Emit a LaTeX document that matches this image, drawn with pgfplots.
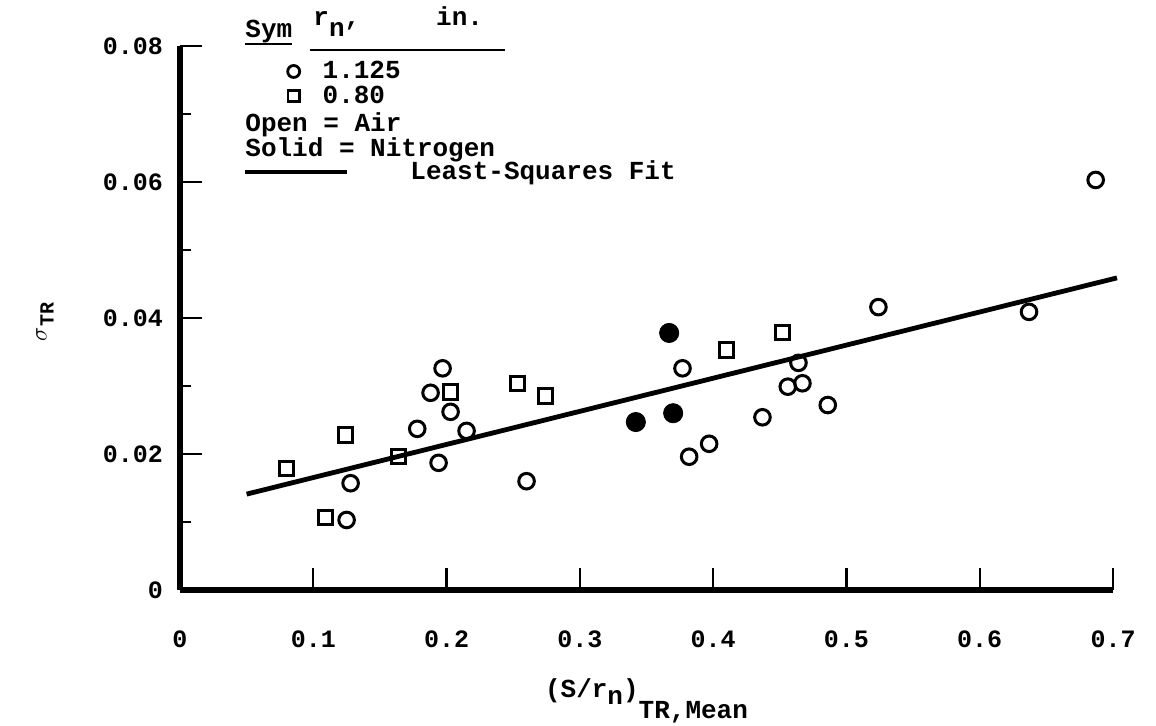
\documentclass[border=0pt]{standalone}
\usepackage{pgfplots}
\pgfplotsset{compat=1.18}
\usepackage{fontspec}
\setmainfont{Liberation Mono}
\begin{document}
\begin{tikzpicture}
\useasboundingbox (-90pt,-68pt) rectangle (488pt,295pt);
\begin{axis}[
  scale only axis, width=466.5pt, height=272pt,
  xmin=0, xmax=0.7, ymin=0, ymax=0.08,
  axis lines=left, x axis line style={-}, y axis line style={-},
  axis line style={line width=2.8pt},
  clip=false,
  tick align=inside,
  major tick length=11pt, minor tick length=5.5pt,
  every tick/.style={line width=1.1pt, black},
  xtick={0,0.1,0.2,0.3,0.4,0.5,0.6,0.7},
  xticklabels={0,0.1,0.2,0.3,0.4,0.5,0.6,0.7},
  ytick={0,0.02,0.04,0.06,0.08},
  yticklabels={0,0.02,0.04,0.06,0.08},
  minor ytick={0.01,0.03,0.05,0.07},
  scaled y ticks=false, scaled x ticks=false,
  /pgf/number format/assume math mode=true,
  ticklabel style={font=\fontsize{12.5}{13}\selectfont\bfseries},
  xticklabel style={yshift=-17pt},
  yticklabel style={xshift=-5pt},
  xlabel={(S/r\raisebox{-0.5ex}{n})\raisebox{-1.5ex}{TR,Mean}},
  xlabel style={at={(axis description cs:0.5,0)}, anchor=north, yshift=-41pt, font=\fontsize{13}{13}\selectfont\bfseries},
  legend style={at={(axis description cs:0.115,0.98)}, anchor=north west, draw=none, fill=none,
    font=\fontsize{13}{13}\selectfont\bfseries, row sep=-2pt, inner sep=0pt,
    nodes={inner sep=2pt},
    /tikz/every odd column/.append style={column sep=9.5pt}},
  legend cell align=left,
]
\addlegendimage{only marks, mark=o, mark size=3pt, line width=1.4pt, black}
\addlegendentry{1.125}
\addlegendimage{only marks, mark=square, mark size=2.8pt, line width=1.4pt, black}
\addlegendentry{0.80}

% least-squares fit
\addplot[forget plot, black, line width=2.4pt] coordinates {(0.05,0.0141) (0.703,0.0459)};

% open circles, r_n = 1.125 in., air
\addplot[forget plot, only marks, mark=o, mark size=3.9pt, line width=1.5pt, black] coordinates {
(0.125,0.0103) (0.128,0.0157) (0.178,0.0237) (0.188,0.0290) (0.197,0.0326)
(0.203,0.0262) (0.194,0.0187) (0.215,0.0234) (0.260,0.0160) (0.377,0.0326)
(0.382,0.0196) (0.397,0.0215) (0.437,0.0254) (0.456,0.0299) (0.464,0.0334)
(0.467,0.0304) (0.486,0.0272) (0.524,0.0416) (0.637,0.0409) (0.687,0.0603)
};
% open squares, r_n = 0.80 in., air
\addplot[forget plot, only marks, mark=square, mark size=3.6pt, line width=1.5pt, black] coordinates {
(0.080,0.0179) (0.109,0.0107) (0.124,0.0228) (0.164,0.0196) (0.203,0.0291)
(0.253,0.0304) (0.274,0.0285) (0.410,0.0353) (0.452,0.0379)
};
% solid circles, nitrogen
\addplot[forget plot, only marks, mark=*, mark size=4.8pt, black] coordinates {
(0.342,0.0247) (0.367,0.0378) (0.370,0.0260)
};
\end{axis}
\node[rotate=90, inner sep=0pt, font=\fontsize{13}{13}\selectfont\bfseries] at (-67.5pt,134pt)
  {$\sigma$\raisebox{-0.5ex}{\fontsize{10}{10}\selectfont TR}};
\begin{scope}[every node/.style={inner sep=0pt, anchor=base west, font=\fontsize{13}{13}\selectfont\bfseries}]
\node at (32.5pt,276pt) {Sym};
\draw[line width=1.1pt] (32.5pt,273pt) -- (56pt,273pt);
\node at (66.5pt,282pt) {r\raisebox{-0.8ex}{n},\hspace{38pt}in.};
\draw[line width=1.1pt] (65pt,270pt) -- (162.5pt,270pt);
\node at (32.5pt,229pt) {Open = Air};
\node at (32.5pt,216.5pt) {Solid = Nitrogen};
\draw[line width=1.8pt] (32.5pt,209pt) -- (83.5pt,209pt);
\node at (115pt,205pt) {Least-Squares Fit};
\end{scope}
\end{tikzpicture}
\end{document}
